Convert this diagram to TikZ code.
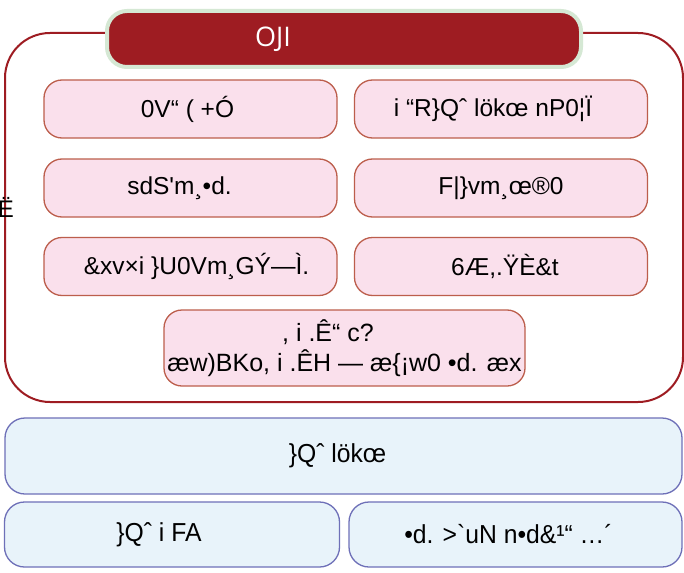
\documentclass[tikz,border=0pt]{standalone}
\usepackage{fontspec}
\usepackage{graphicx}
\setmainfont{Liberation Sans}
\newfontfamily\titlefont{Open Sans}
\definecolor{darkred}{HTML}{9E1C22}
\definecolor{titleedge}{HTML}{D5E8D4}
\definecolor{pinkfill}{HTML}{FAE0EC}
\definecolor{pinkedge}{HTML}{BC5E4C}
\definecolor{bluefill}{HTML}{E8F3FA}
\definecolor{blueedge}{HTML}{6E70B8}
\tikzset{
  pinkbox/.style={draw=pinkedge, fill=pinkfill, line width=1.3pt, rounded corners=18pt,
    minimum width=293pt, minimum height=58pt, inner sep=0pt, align=center,
    font=\fontsize{24.5}{30}\selectfont},
  bluebox/.style={draw=blueedge, fill=bluefill, line width=1.3pt, rounded corners=20pt,
    inner sep=0pt, font=\fontsize{26}{30}\selectfont},
  container/.style={draw=darkred, line width=2pt, rounded corners=45pt, fill=white,
    minimum width=678pt, minimum height=369pt, inner sep=0pt},
  titlebox/.style={draw=titleedge, fill=darkred, line width=4pt, rounded corners=20pt,
    minimum width=474pt, minimum height=56pt, inner sep=0pt, text=white,
    font=\titlefont\fontsize{27}{30}\selectfont}
}
\begin{document}
\begin{tikzpicture}[x=1pt,y=-1pt]
\useasboundingbox (0,0) rectangle (684,572);
\fill[white] (0,0) rectangle (684,572);
% container
\node[container] (grp) at (344,217.5) {};
\node[font=\fontsize{24}{28}\selectfont, inner sep=0pt] (side) at (6,207) {Ë};
\node[titlebox] (title) at (344,39) {OJI\hspace*{142pt}};
% pink boxes
\node[pinkbox] (a1) at (190.5,109) {0V“ ( +Ó\hspace*{6pt}};
\node[pinkbox] (b1) at (501,109) {i “R\}Qˆ lökœ nP0¦Ï\hspace*{16pt}};
\node[pinkbox] (a2) at (190.5,188) {sdS\textquotesingle m¸•d.\hspace*{22pt}};
\node[pinkbox] (b2) at (501,188) {F|\}vm¸œ®0};
\node[pinkbox] (a3) at (190.5,266.5) {\hspace*{12pt}\&xv×i \}U0Vm¸GÝ—Ì.};
\node[pinkbox] (b3) at (501,266.5) {\hspace*{8pt}6Æ,.ŸÈ\&t};
\node[pinkbox, minimum width=361pt, minimum height=76pt, font=\fontsize{25}{30}\selectfont] (c4) at (344.5,348) {, i .Ê“ c?\hspace*{33pt}\\æw)BKo, i .ÊH — æ\{¡w0 •d. æx};
% blue boxes
\node[bluebox, minimum width=677pt, minimum height=76pt] (big) at (343.5,456) {\scalebox{0.95}[1]{\}Qˆ lökœ}\hspace*{12pt}};
\node[bluebox, minimum width=335pt, minimum height=65pt] (bl) at (172,534.5) {\scalebox{0.95}[1]{\}Qˆ i FA}\hspace*{26pt}};
\node[bluebox, minimum width=333pt, minimum height=65pt] (br) at (515.5,534.5) {\scalebox{0.95}[1]{•d. >\textasciigrave uN n•d\&¹“ …´}\hspace*{14pt}};
\end{tikzpicture}
\end{document}
